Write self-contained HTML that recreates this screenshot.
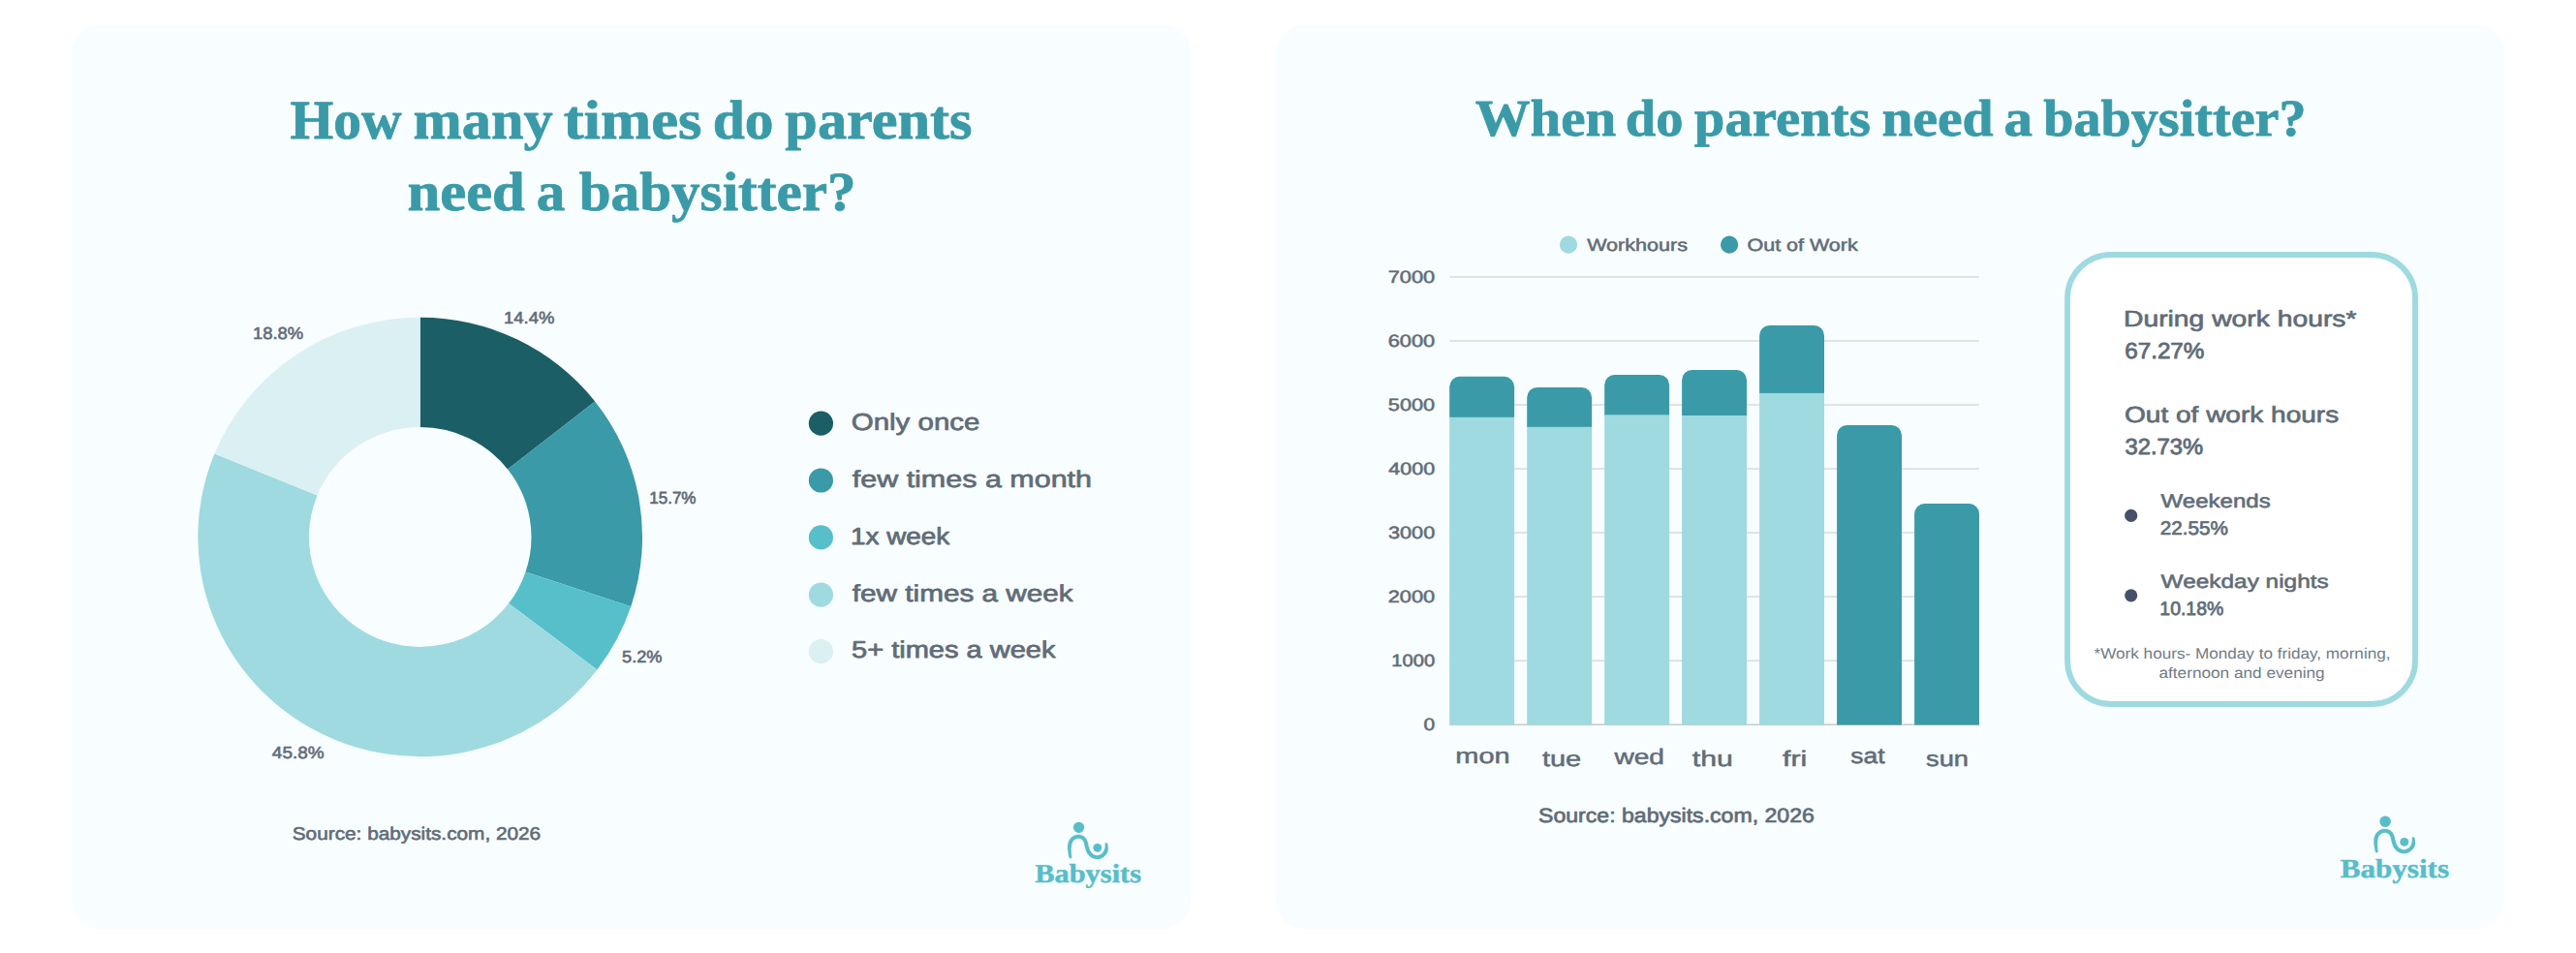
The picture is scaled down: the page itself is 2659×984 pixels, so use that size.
<!DOCTYPE html>
<html lang="en"><head><meta charset="utf-8"><title>Babysits statistics</title>
<style>
html,body{margin:0;padding:0;background:#ffffff;}
body{width:2659px;height:984px;overflow:hidden;}
svg{display:block;}
text{text-rendering:geometricPrecision;}
.m{font-family:"Liberation Sans",Arial,sans-serif;font-weight:400;fill:#616c77;stroke:#616c77;stroke-linejoin:round;}
.s{font-family:"Liberation Sans",Arial,sans-serif;font-weight:700;fill:#616c77;}
.r{font-family:"Liberation Sans",Arial,sans-serif;font-weight:400;fill:#707b86;}
.t{font-family:"Liberation Serif","Times New Roman",serif;font-weight:700;fill:#3a9aa8;stroke:#3a9aa8;stroke-width:0.8;stroke-linejoin:round;}
.l{font-family:"Liberation Serif","Times New Roman",serif;font-weight:700;fill:#58bdc9;stroke:#58bdc9;stroke-width:0.45;stroke-linejoin:round;}
</style></head><body>
<svg width="2659" height="984" viewBox="0 0 2659 984">

<rect x="74" y="26" width="1155" height="933" rx="29" fill="#f8fdff"/>
<rect x="1317" y="26" width="1268" height="933" rx="29" fill="#f8fdff"/>
<text class="t" y="143.3" font-size="56.9"><tspan x="299.59" textLength="115.10" lengthAdjust="spacingAndGlyphs">How</tspan> <tspan x="426.54" textLength="144.11" lengthAdjust="spacingAndGlyphs">many</tspan> <tspan x="581.76" textLength="142.67" lengthAdjust="spacingAndGlyphs">times</tspan> <tspan x="735.72" textLength="62.78" lengthAdjust="spacingAndGlyphs">do</tspan> <tspan x="810.35" textLength="193.21" lengthAdjust="spacingAndGlyphs">parents</tspan></text>
<text class="t" y="217.0" font-size="56.9"><tspan x="420.43" textLength="121.48" lengthAdjust="spacingAndGlyphs">need</tspan> <tspan x="553.78" textLength="29.50" lengthAdjust="spacingAndGlyphs">a</tspan> <tspan x="597.66" textLength="285.93" lengthAdjust="spacingAndGlyphs">babysitter?</tspan></text>
<g transform="translate(433.7,554.45) scale(1,0.98866)">
<path d="M0.00 -229.35 A229.35 229.35 0 0 1 180.46 -141.54 L90.29 -70.82 A114.75 114.75 0 0 0 0.00 -114.75 Z" fill="#1b5e66"/>
<path d="M180.46 -141.54 A229.35 229.35 0 0 1 217.54 72.65 L108.84 36.35 A114.75 114.75 0 0 0 90.29 -70.82 Z" fill="#3a9aa8"/>
<path d="M217.54 72.65 A229.35 229.35 0 0 1 182.67 138.69 L91.39 69.39 A114.75 114.75 0 0 0 108.84 36.35 Z" fill="#56bfca"/>
<path d="M182.67 138.69 A229.35 229.35 0 0 1 -212.27 -86.85 L-106.20 -43.45 A114.75 114.75 0 0 0 91.39 69.39 Z" fill="#9edae0"/>
<path d="M-212.27 -86.85 A229.35 229.35 0 0 1 -0.00 -229.35 L-0.00 -114.75 A114.75 114.75 0 0 0 -106.20 -43.45 Z" fill="#dbf0f3"/>
</g>
<text class="m" x="520.03" y="334.0" font-size="17.5" textLength="52.27" lengthAdjust="spacingAndGlyphs" stroke-width="0.62">14.4%</text>
<text class="m" x="670.26" y="520.0" font-size="17.5" textLength="48.26" lengthAdjust="spacingAndGlyphs" stroke-width="0.67">15.7%</text>
<text class="m" x="642.09" y="684.0" font-size="17.5" textLength="41.43" lengthAdjust="spacingAndGlyphs" stroke-width="0.63">5.2%</text>
<text class="m" x="280.87" y="783.0" font-size="17.5" textLength="53.75" lengthAdjust="spacingAndGlyphs" stroke-width="0.60">45.8%</text>
<text class="m" x="260.93" y="350.0" font-size="17.5" textLength="52.17" lengthAdjust="spacingAndGlyphs" stroke-width="0.62">18.8%</text>
<circle cx="847.4" cy="437.2" r="12.6" fill="#1b5e66"/>
<text class="m" x="878.76" y="444.0" font-size="24.5" textLength="132.63" lengthAdjust="spacingAndGlyphs" stroke-width="0.73">Only once</text>
<circle cx="847.4" cy="496.0" r="12.6" fill="#3a9aa8"/>
<text class="m" x="879.76" y="503.0" font-size="24.5" textLength="247.26" lengthAdjust="spacingAndGlyphs" stroke-width="0.69">few times a month</text>
<circle cx="847.4" cy="554.9" r="12.6" fill="#56bfca"/>
<text class="m" x="878.11" y="562.0" font-size="24.5" textLength="102.13" lengthAdjust="spacingAndGlyphs" stroke-width="0.79">1x week</text>
<circle cx="847.4" cy="614.1" r="12.6" fill="#9edae0"/>
<text class="m" x="879.79" y="621.0" font-size="24.5" textLength="227.94" lengthAdjust="spacingAndGlyphs" stroke-width="0.72">few times a week</text>
<circle cx="847.4" cy="672.7" r="12.6" fill="#dbf0f3"/>
<text class="m" x="879.01" y="679.0" font-size="24.5" textLength="210.45" lengthAdjust="spacingAndGlyphs" stroke-width="0.75">5+ times a week</text>
<text class="m" x="301.77" y="867.0" font-size="18.4" textLength="256.42" lengthAdjust="spacingAndGlyphs" stroke-width="0.60">Source: babysits.com, 2026</text>
<g transform="translate(1068.4,911.3) scale(1.0,1.0)">
<circle cx="45.18" cy="-57" r="5.65" fill="#58bdc9"/>
<circle cx="64.4" cy="-36" r="4.4" fill="#58bdc9"/>
<path d="M37.83 -25.45 L37.79 -26.02 L37.73 -26.56 L37.67 -27.08 L37.61 -27.60 L37.55 -28.12 L37.50 -28.67 L37.46 -29.26 L37.42 -29.91 L37.39 -30.67 L37.35 -31.50 L37.31 -32.37 L37.28 -33.26 L37.27 -34.15 L37.28 -35.02 L37.32 -35.82 L37.39 -36.57 L37.48 -37.29 L37.58 -38.01 L37.68 -38.71 L37.80 -39.37 L37.95 -40.01 L38.12 -40.59 L38.31 -41.13 L38.53 -41.62 L38.77 -42.08 L39.04 -42.53 L39.35 -42.95 L39.68 -43.34 L40.02 -43.70 L40.39 -44.03 L40.76 -44.32 L41.14 -44.57 L41.55 -44.79 L42.00 -45.00 L42.49 -45.18 L43.00 -45.32 L43.53 -45.44 L44.05 -45.52 L44.55 -45.56 L45.01 -45.57 L45.46 -45.54 L45.95 -45.47 L46.44 -45.36 L46.92 -45.22 L47.38 -45.05 L47.81 -44.85 L48.19 -44.63 L48.51 -44.41 L48.78 -44.18 L49.04 -43.89 L49.30 -43.54 L49.56 -43.14 L49.81 -42.69 L50.06 -42.20 L50.29 -41.68 L50.51 -41.17 L50.69 -40.69 L50.83 -40.18 L50.97 -39.61 L51.09 -38.98 L51.22 -38.31 L51.36 -37.61 L51.52 -36.87 L51.72 -36.15 L51.92 -35.48 L52.12 -34.80 L52.33 -34.10 L52.56 -33.39 L52.82 -32.66 L53.10 -31.93 L53.44 -31.21 L53.81 -30.52 L54.21 -29.89 L54.63 -29.28 L55.08 -28.69 L55.56 -28.12 L56.09 -27.57 L56.65 -27.05 L57.26 -26.56 L57.91 -26.12 L58.59 -25.73 L59.30 -25.38 L60.05 -25.06 L60.83 -24.78 L61.63 -24.55 L62.44 -24.37 L63.27 -24.26 L64.11 -24.22 L64.94 -24.26 L65.76 -24.38 L66.57 -24.55 L67.36 -24.79 L68.12 -25.07 L68.85 -25.39 L69.54 -25.74 L70.21 -26.13 L70.85 -26.58 L71.45 -27.07 L72.02 -27.60 L72.55 -28.16 L73.04 -28.74 L73.48 -29.34 L73.89 -29.95 L74.26 -30.58 L74.59 -31.23 L74.87 -31.91 L75.08 -32.60 L75.22 -33.30 L75.31 -33.98 L75.37 -34.66 L75.40 -35.32 L75.41 -35.98 L75.39 -36.67 L75.31 -37.35 L75.19 -38.00 L75.05 -38.63 L74.89 -39.23 L74.73 -39.81 L74.56 -40.37 L74.34 -40.93 L72.45 -40.73 L72.36 -40.11 L72.34 -39.49 L72.35 -38.88 L72.35 -38.29 L72.34 -37.73 L72.32 -37.20 L72.27 -36.70 L72.19 -36.22 L72.08 -35.71 L71.95 -35.18 L71.81 -34.66 L71.65 -34.17 L71.47 -33.69 L71.30 -33.24 L71.13 -32.80 L70.92 -32.39 L70.67 -31.97 L70.38 -31.53 L70.06 -31.10 L69.71 -30.68 L69.34 -30.29 L68.96 -29.93 L68.56 -29.61 L68.16 -29.33 L67.72 -29.07 L67.22 -28.82 L66.70 -28.59 L66.16 -28.39 L65.62 -28.23 L65.08 -28.11 L64.58 -28.04 L64.11 -28.02 L63.63 -28.04 L63.11 -28.12 L62.56 -28.24 L61.99 -28.40 L61.43 -28.60 L60.89 -28.83 L60.38 -29.08 L59.92 -29.35 L59.51 -29.62 L59.13 -29.93 L58.75 -30.28 L58.39 -30.66 L58.04 -31.07 L57.71 -31.51 L57.39 -31.98 L57.09 -32.44 L56.83 -32.92 L56.60 -33.43 L56.38 -33.99 L56.16 -34.59 L55.96 -35.23 L55.76 -35.89 L55.57 -36.56 L55.37 -37.20 L55.21 -37.80 L55.08 -38.40 L54.95 -39.04 L54.82 -39.71 L54.68 -40.41 L54.51 -41.13 L54.30 -41.86 L54.04 -42.57 L53.77 -43.22 L53.48 -43.84 L53.17 -44.47 L52.82 -45.10 L52.42 -45.71 L51.97 -46.32 L51.44 -46.89 L50.85 -47.41 L50.21 -47.85 L49.54 -48.23 L48.84 -48.56 L48.12 -48.82 L47.38 -49.04 L46.63 -49.21 L45.87 -49.31 L45.12 -49.37 L44.36 -49.36 L43.60 -49.29 L42.83 -49.18 L42.06 -49.01 L41.31 -48.79 L40.57 -48.52 L39.86 -48.20 L39.18 -47.83 L38.54 -47.40 L37.94 -46.94 L37.38 -46.43 L36.84 -45.87 L36.35 -45.28 L35.89 -44.65 L35.47 -43.98 L35.10 -43.27 L34.78 -42.53 L34.50 -41.75 L34.27 -40.96 L34.08 -40.15 L33.93 -39.32 L33.81 -38.49 L33.73 -37.65 L33.70 -36.79 L33.71 -35.88 L33.76 -34.93 L33.84 -33.97 L33.96 -33.01 L34.08 -32.08 L34.22 -31.18 L34.35 -30.35 L34.47 -29.59 L34.60 -28.89 L34.72 -28.25 L34.86 -27.66 L34.99 -27.11 L35.13 -26.59 L35.27 -26.08 L35.41 -25.58 L35.57 -25.05Z" fill="#58bdc9" stroke="#58bdc9" stroke-width="0.25" stroke-linejoin="round"/>
<text class="l" x="-0.26" y="0" font-size="27.3" textLength="109.91" lengthAdjust="spacingAndGlyphs">Babysits</text>
</g>
<text class="t" y="139.8" font-size="53.6"><tspan x="1522.69" textLength="145.39" lengthAdjust="spacingAndGlyphs">When</tspan> <tspan x="1677.84" textLength="59.64" lengthAdjust="spacingAndGlyphs">do</tspan> <tspan x="1748.89" textLength="181.99" lengthAdjust="spacingAndGlyphs">parents</tspan> <tspan x="1942.42" textLength="115.27" lengthAdjust="spacingAndGlyphs">need</tspan> <tspan x="2068.48" textLength="29.50" lengthAdjust="spacingAndGlyphs">a</tspan> <tspan x="2109.20" textLength="271.41" lengthAdjust="spacingAndGlyphs">babysitter?</tspan></text>
<circle cx="1619" cy="252.6" r="9.1" fill="#9edae0"/>
<text class="m" x="1638.15" y="259.0" font-size="17.8" textLength="103.92" lengthAdjust="spacingAndGlyphs" stroke-width="0.52">Workhours</text>
<circle cx="1785.1" cy="252.6" r="9.1" fill="#3a9aa8"/>
<text class="m" x="1803.54" y="259.0" font-size="17.8" textLength="114.18" lengthAdjust="spacingAndGlyphs" stroke-width="0.53">Out of Work</text>
<rect x="1496.2" y="747.45" width="546.8" height="1.5" fill="#c6cacd"/>
<text class="m" x="1469.46" y="754.0" font-size="17.8" textLength="11.70" lengthAdjust="spacingAndGlyphs" stroke-width="0.51">0</text>
<rect x="1496.2" y="681.41" width="546.8" height="1.5" fill="#d5dce0"/>
<text class="m" x="1436.38" y="688.0" font-size="17.8" textLength="44.73" lengthAdjust="spacingAndGlyphs" stroke-width="0.57">1000</text>
<rect x="1496.2" y="615.37" width="546.8" height="1.5" fill="#d5dce0"/>
<text class="m" x="1432.66" y="622.0" font-size="17.8" textLength="48.55" lengthAdjust="spacingAndGlyphs" stroke-width="0.51">2000</text>
<rect x="1496.2" y="549.33" width="546.8" height="1.5" fill="#d5dce0"/>
<text class="m" x="1432.94" y="556.0" font-size="17.8" textLength="48.26" lengthAdjust="spacingAndGlyphs" stroke-width="0.51">3000</text>
<rect x="1496.2" y="483.29" width="546.8" height="1.5" fill="#d5dce0"/>
<text class="m" x="1433.27" y="490.0" font-size="17.8" textLength="47.92" lengthAdjust="spacingAndGlyphs" stroke-width="0.52">4000</text>
<rect x="1496.2" y="417.25" width="546.8" height="1.5" fill="#d5dce0"/>
<text class="m" x="1432.89" y="424.0" font-size="17.8" textLength="48.32" lengthAdjust="spacingAndGlyphs" stroke-width="0.51">5000</text>
<rect x="1496.2" y="351.21" width="546.8" height="1.5" fill="#d5dce0"/>
<text class="m" x="1432.66" y="358.0" font-size="17.8" textLength="48.55" lengthAdjust="spacingAndGlyphs" stroke-width="0.51">6000</text>
<rect x="1496.2" y="285.17" width="546.8" height="1.5" fill="#d5dce0"/>
<text class="m" x="1432.66" y="292.0" font-size="17.8" textLength="48.55" lengthAdjust="spacingAndGlyphs" stroke-width="0.51">7000</text>
<path d="M1496.2 431.4 V399.3 A10.5 10.5 0 0 1 1506.7 388.8 H1552.6 A10.5 10.5 0 0 1 1563.1 399.3 V431.4 Z" fill="#3a9aa8"/>
<rect x="1496.2" y="430.8" width="66.9" height="317.7" fill="#9edae0"/>
<path d="M1576.2 441.4 V410.4 A10.5 10.5 0 0 1 1586.7 399.9 H1632.6 A10.5 10.5 0 0 1 1643.1 410.4 V441.4 Z" fill="#3a9aa8"/>
<rect x="1576.2" y="440.8" width="66.9" height="307.7" fill="#9edae0"/>
<path d="M1656.2 428.9 V397.5 A10.5 10.5 0 0 1 1666.7 387.0 H1712.6 A10.5 10.5 0 0 1 1723.1 397.5 V428.9 Z" fill="#3a9aa8"/>
<rect x="1656.2" y="428.3" width="66.9" height="320.2" fill="#9edae0"/>
<path d="M1736.1 429.6 V392.4 A10.5 10.5 0 0 1 1746.6 381.9 H1792.5 A10.5 10.5 0 0 1 1803.0 392.4 V429.6 Z" fill="#3a9aa8"/>
<rect x="1736.1" y="429.0" width="66.9" height="319.5" fill="#9edae0"/>
<path d="M1816.1 406.5 V346.5 A10.5 10.5 0 0 1 1826.6 336.0 H1872.5 A10.5 10.5 0 0 1 1883.0 346.5 V406.5 Z" fill="#3a9aa8"/>
<rect x="1816.1" y="405.9" width="66.9" height="342.6" fill="#9edae0"/>
<path d="M1896.1 748.5 V449.4 A10.5 10.5 0 0 1 1906.6 438.9 H1952.5 A10.5 10.5 0 0 1 1963.0 449.4 V748.5 Z" fill="#3a9aa8"/>
<path d="M1976.1 748.5 V530.6 A10.5 10.5 0 0 1 1986.6 520.1 H2032.5 A10.5 10.5 0 0 1 2043.0 530.6 V748.5 Z" fill="#3a9aa8"/>
<text class="m" x="1502.26" y="788.0" font-size="22.5" textLength="56.41" lengthAdjust="spacingAndGlyphs" stroke-width="0.49">mon</text>
<text class="m" x="1591.91" y="791.0" font-size="22.5" textLength="40.28" lengthAdjust="spacingAndGlyphs" stroke-width="0.49">tue</text>
<text class="m" x="1666.42" y="789.0" font-size="22.5" textLength="51.55" lengthAdjust="spacingAndGlyphs" stroke-width="0.49">wed</text>
<text class="m" x="1746.89" y="791.0" font-size="22.5" textLength="42.03" lengthAdjust="spacingAndGlyphs" stroke-width="0.49">thu</text>
<text class="m" x="1840.07" y="791.0" font-size="22.5" textLength="25.14" lengthAdjust="spacingAndGlyphs" stroke-width="0.49">fri</text>
<text class="m" x="1910.24" y="788.0" font-size="22.5" textLength="35.32" lengthAdjust="spacingAndGlyphs" stroke-width="0.54">sat</text>
<text class="m" x="1988.01" y="791.0" font-size="22.5" textLength="44.01" lengthAdjust="spacingAndGlyphs" stroke-width="0.51">sun</text>
<text class="m" x="1588.01" y="849.0" font-size="20.8" textLength="284.83" lengthAdjust="spacingAndGlyphs" stroke-width="0.70">Source: babysits.com, 2026</text>
<rect x="2134.05" y="262.95" width="359.0" height="464.1" rx="45" fill="#ffffff" stroke="#9edae0" stroke-width="5.9"/>
<text class="m" x="2192.00" y="337.0" font-size="23.2" textLength="240.52" lengthAdjust="spacingAndGlyphs" stroke-width="0.68">During work hours*</text>
<text class="m" x="2193.20" y="370.0" font-size="23.2" textLength="82.21" lengthAdjust="spacingAndGlyphs" stroke-width="0.83">67.27%</text>
<text class="m" x="2193.01" y="436.0" font-size="23.2" textLength="221.22" lengthAdjust="spacingAndGlyphs" stroke-width="0.68">Out of work hours</text>
<text class="m" x="2193.53" y="469.0" font-size="23.2" textLength="80.55" lengthAdjust="spacingAndGlyphs" stroke-width="0.85">32.73%</text>
<circle cx="2199.7" cy="532.4" r="6.6" fill="#45506b"/>
<circle cx="2199.7" cy="614.8" r="6.6" fill="#45506b"/>
<text class="m" x="2230.57" y="524.0" font-size="19.75" textLength="113.17" lengthAdjust="spacingAndGlyphs" stroke-width="0.57">Weekends</text>
<text class="m" x="2229.72" y="552.0" font-size="19.75" textLength="70.24" lengthAdjust="spacingAndGlyphs" stroke-width="0.70">22.55%</text>
<text class="m" x="2230.56" y="607.0" font-size="19.75" textLength="173.20" lengthAdjust="spacingAndGlyphs" stroke-width="0.56">Weekday nights</text>
<text class="m" x="2229.32" y="635.0" font-size="19.75" textLength="65.97" lengthAdjust="spacingAndGlyphs" stroke-width="0.75">10.18%</text>
<text class="r" x="2161.54" y="680.0" font-size="15.6" textLength="305.99" lengthAdjust="spacingAndGlyphs">*Work hours- Monday to friday, morning,</text>
<text class="r" x="2228.47" y="700.0" font-size="15.6" textLength="171.21" lengthAdjust="spacingAndGlyphs">afternoon and evening</text>
<g transform="translate(2415.9,905.6) scale(1.023,1.006)">
<circle cx="45.18" cy="-57" r="5.65" fill="#58bdc9"/>
<circle cx="64.4" cy="-36" r="4.4" fill="#58bdc9"/>
<path d="M37.83 -25.45 L37.79 -26.02 L37.73 -26.56 L37.67 -27.08 L37.61 -27.60 L37.55 -28.12 L37.50 -28.67 L37.46 -29.26 L37.42 -29.91 L37.39 -30.67 L37.35 -31.50 L37.31 -32.37 L37.28 -33.26 L37.27 -34.15 L37.28 -35.02 L37.32 -35.82 L37.39 -36.57 L37.48 -37.29 L37.58 -38.01 L37.68 -38.71 L37.80 -39.37 L37.95 -40.01 L38.12 -40.59 L38.31 -41.13 L38.53 -41.62 L38.77 -42.08 L39.04 -42.53 L39.35 -42.95 L39.68 -43.34 L40.02 -43.70 L40.39 -44.03 L40.76 -44.32 L41.14 -44.57 L41.55 -44.79 L42.00 -45.00 L42.49 -45.18 L43.00 -45.32 L43.53 -45.44 L44.05 -45.52 L44.55 -45.56 L45.01 -45.57 L45.46 -45.54 L45.95 -45.47 L46.44 -45.36 L46.92 -45.22 L47.38 -45.05 L47.81 -44.85 L48.19 -44.63 L48.51 -44.41 L48.78 -44.18 L49.04 -43.89 L49.30 -43.54 L49.56 -43.14 L49.81 -42.69 L50.06 -42.20 L50.29 -41.68 L50.51 -41.17 L50.69 -40.69 L50.83 -40.18 L50.97 -39.61 L51.09 -38.98 L51.22 -38.31 L51.36 -37.61 L51.52 -36.87 L51.72 -36.15 L51.92 -35.48 L52.12 -34.80 L52.33 -34.10 L52.56 -33.39 L52.82 -32.66 L53.10 -31.93 L53.44 -31.21 L53.81 -30.52 L54.21 -29.89 L54.63 -29.28 L55.08 -28.69 L55.56 -28.12 L56.09 -27.57 L56.65 -27.05 L57.26 -26.56 L57.91 -26.12 L58.59 -25.73 L59.30 -25.38 L60.05 -25.06 L60.83 -24.78 L61.63 -24.55 L62.44 -24.37 L63.27 -24.26 L64.11 -24.22 L64.94 -24.26 L65.76 -24.38 L66.57 -24.55 L67.36 -24.79 L68.12 -25.07 L68.85 -25.39 L69.54 -25.74 L70.21 -26.13 L70.85 -26.58 L71.45 -27.07 L72.02 -27.60 L72.55 -28.16 L73.04 -28.74 L73.48 -29.34 L73.89 -29.95 L74.26 -30.58 L74.59 -31.23 L74.87 -31.91 L75.08 -32.60 L75.22 -33.30 L75.31 -33.98 L75.37 -34.66 L75.40 -35.32 L75.41 -35.98 L75.39 -36.67 L75.31 -37.35 L75.19 -38.00 L75.05 -38.63 L74.89 -39.23 L74.73 -39.81 L74.56 -40.37 L74.34 -40.93 L72.45 -40.73 L72.36 -40.11 L72.34 -39.49 L72.35 -38.88 L72.35 -38.29 L72.34 -37.73 L72.32 -37.20 L72.27 -36.70 L72.19 -36.22 L72.08 -35.71 L71.95 -35.18 L71.81 -34.66 L71.65 -34.17 L71.47 -33.69 L71.30 -33.24 L71.13 -32.80 L70.92 -32.39 L70.67 -31.97 L70.38 -31.53 L70.06 -31.10 L69.71 -30.68 L69.34 -30.29 L68.96 -29.93 L68.56 -29.61 L68.16 -29.33 L67.72 -29.07 L67.22 -28.82 L66.70 -28.59 L66.16 -28.39 L65.62 -28.23 L65.08 -28.11 L64.58 -28.04 L64.11 -28.02 L63.63 -28.04 L63.11 -28.12 L62.56 -28.24 L61.99 -28.40 L61.43 -28.60 L60.89 -28.83 L60.38 -29.08 L59.92 -29.35 L59.51 -29.62 L59.13 -29.93 L58.75 -30.28 L58.39 -30.66 L58.04 -31.07 L57.71 -31.51 L57.39 -31.98 L57.09 -32.44 L56.83 -32.92 L56.60 -33.43 L56.38 -33.99 L56.16 -34.59 L55.96 -35.23 L55.76 -35.89 L55.57 -36.56 L55.37 -37.20 L55.21 -37.80 L55.08 -38.40 L54.95 -39.04 L54.82 -39.71 L54.68 -40.41 L54.51 -41.13 L54.30 -41.86 L54.04 -42.57 L53.77 -43.22 L53.48 -43.84 L53.17 -44.47 L52.82 -45.10 L52.42 -45.71 L51.97 -46.32 L51.44 -46.89 L50.85 -47.41 L50.21 -47.85 L49.54 -48.23 L48.84 -48.56 L48.12 -48.82 L47.38 -49.04 L46.63 -49.21 L45.87 -49.31 L45.12 -49.37 L44.36 -49.36 L43.60 -49.29 L42.83 -49.18 L42.06 -49.01 L41.31 -48.79 L40.57 -48.52 L39.86 -48.20 L39.18 -47.83 L38.54 -47.40 L37.94 -46.94 L37.38 -46.43 L36.84 -45.87 L36.35 -45.28 L35.89 -44.65 L35.47 -43.98 L35.10 -43.27 L34.78 -42.53 L34.50 -41.75 L34.27 -40.96 L34.08 -40.15 L33.93 -39.32 L33.81 -38.49 L33.73 -37.65 L33.70 -36.79 L33.71 -35.88 L33.76 -34.93 L33.84 -33.97 L33.96 -33.01 L34.08 -32.08 L34.22 -31.18 L34.35 -30.35 L34.47 -29.59 L34.60 -28.89 L34.72 -28.25 L34.86 -27.66 L34.99 -27.11 L35.13 -26.59 L35.27 -26.08 L35.41 -25.58 L35.57 -25.05Z" fill="#58bdc9" stroke="#58bdc9" stroke-width="0.25" stroke-linejoin="round"/>
<text class="l" x="-0.26" y="0" font-size="27.3" textLength="109.91" lengthAdjust="spacingAndGlyphs">Babysits</text>
</g>
</svg></body></html>
